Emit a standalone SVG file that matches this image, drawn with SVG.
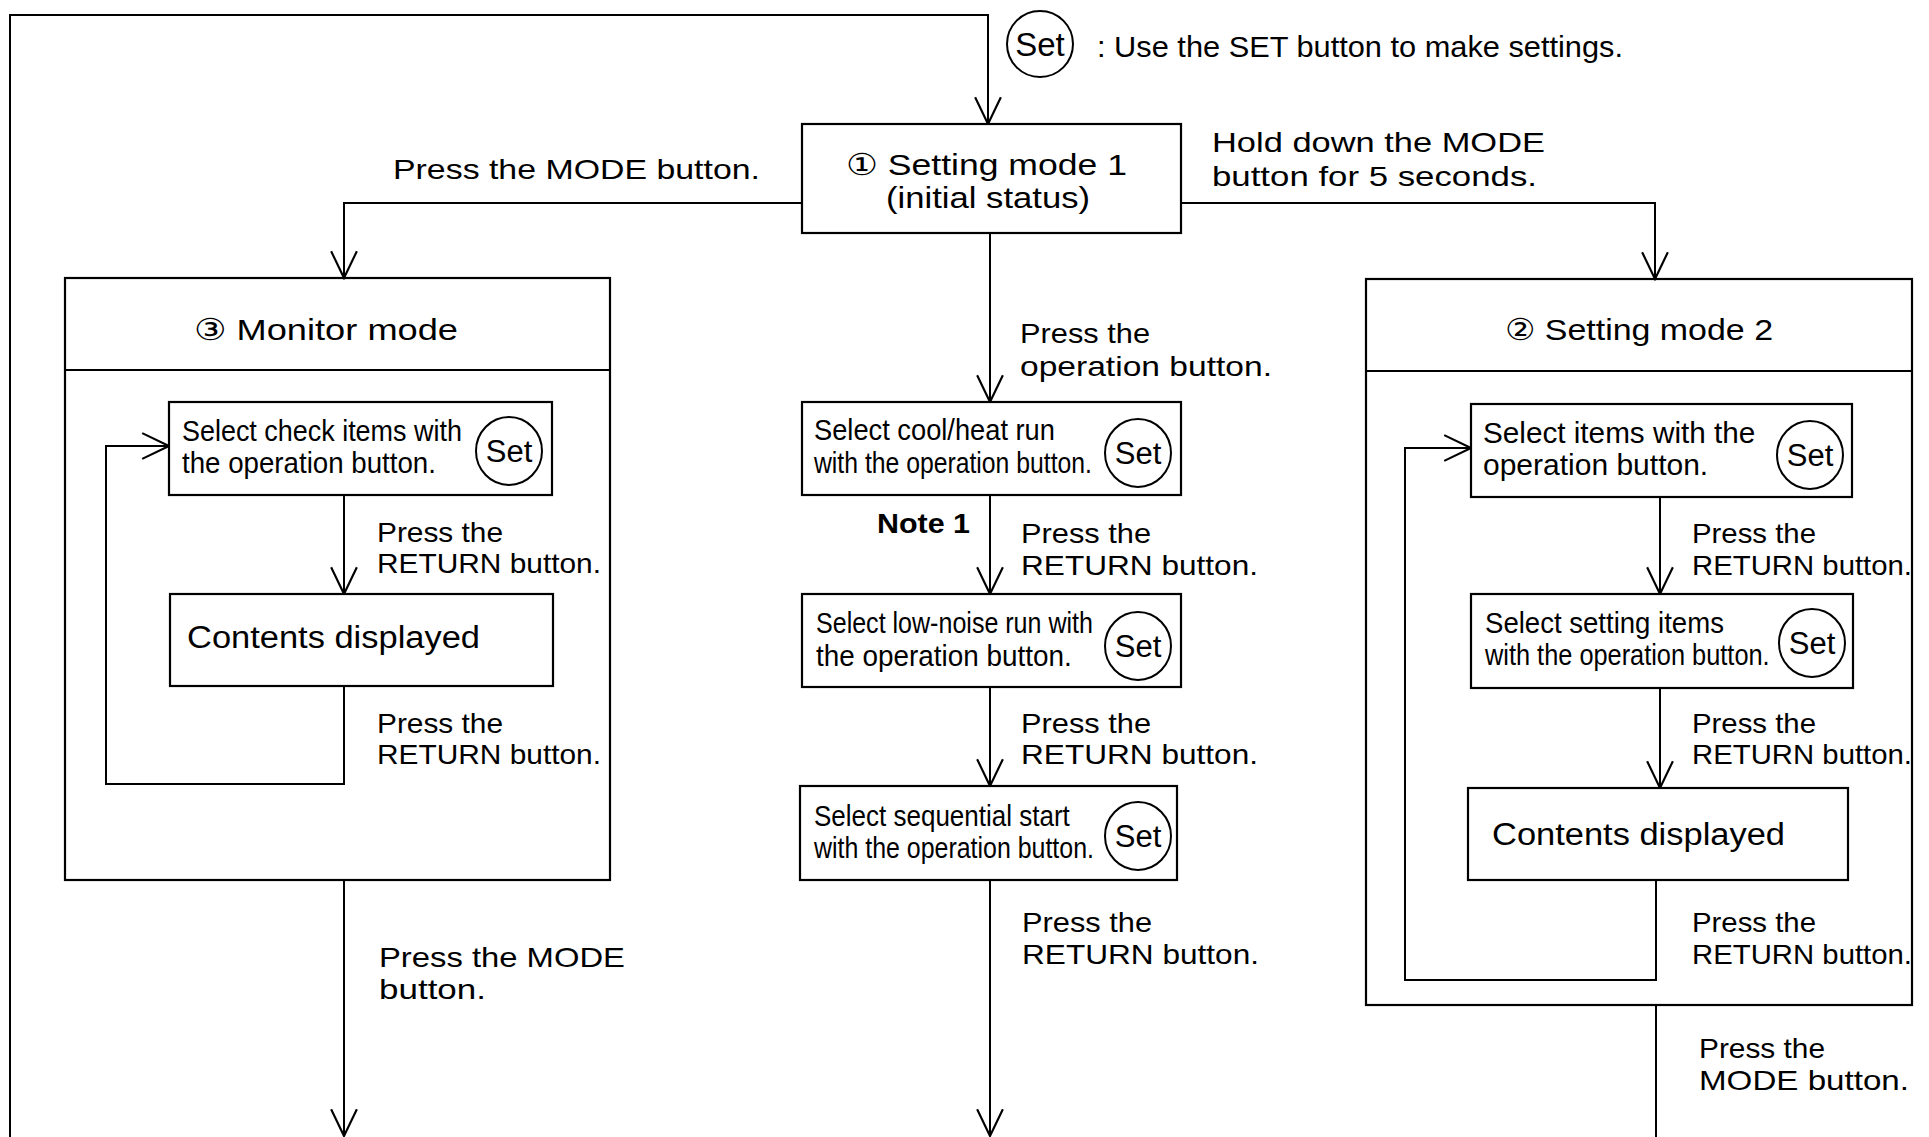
<svg xmlns="http://www.w3.org/2000/svg" width="1929" height="1137" viewBox="0 0 1929 1137">
<defs>
<marker id="arr" markerUnits="userSpaceOnUse" markerWidth="30" markerHeight="30" viewBox="-26 -14 28 28" refX="0" refY="0" orient="auto">
<path d="M-25,-12 L0,0 L-25,12" fill="none" stroke="#000" stroke-width="2"/>
</marker>
</defs>
<style>
text{font-family:"Liberation Sans","DejaVu Sans",Arial,sans-serif;fill:#000;font-size:28px}
.nar{font-size:30px}
.box{fill:#fff;stroke:#000;stroke-width:2.2}
.frame{fill:none;stroke:#000;stroke-width:2.2}
.set{fill:#fff;stroke:#000;stroke-width:2}
.st{font-size:31px;text-anchor:middle}
.ttl{font-size:30px}
.big{font-size:31px}
.bold{font-weight:bold}
.con{fill:none;stroke:#000;stroke-width:2}
.ca{fill:none;stroke:#000;stroke-width:2;marker-end:url(#arr)}
</style>
<rect width="1929" height="1137" fill="#fff"/>

<g id="connectors">
<path class="ca" d="M10,1137 L10,15 L988,15 L988,124"/>
<path class="ca" d="M802,203 L344,203 L344,278"/>
<path class="ca" d="M1181,203 L1655,203 L1655,279"/>
<path class="ca" d="M990,233 L990,402"/>
<path class="ca" d="M344,495 L344,594"/>
<path class="ca" d="M344,686 L344,784 L106,784 L106,446 L169,446"/>
<path class="ca" d="M344,880 L344,1136"/>
<path class="ca" d="M990,495 L990,594"/>
<path class="ca" d="M990,687 L990,786"/>
<path class="ca" d="M990,880 L990,1136"/>
<path class="ca" d="M1660,497 L1660,594"/>
<path class="ca" d="M1660,688 L1660,788"/>
<path class="ca" d="M1656,880 L1656,980 L1405,980 L1405,448 L1471,448"/>
<path class="con" d="M1656,1005 L1656,1137"/>
</g>

<g id="labels">
<text x="393" y="179" textLength="367" lengthAdjust="spacingAndGlyphs">Press the MODE button.</text>
<text x="1212" y="152" textLength="333" lengthAdjust="spacingAndGlyphs">Hold down the MODE</text>
<text x="1212" y="186" textLength="325" lengthAdjust="spacingAndGlyphs">button for 5 seconds.</text>
<text x="1020" y="343" textLength="130" lengthAdjust="spacingAndGlyphs">Press the</text>
<text x="1020" y="376" textLength="252" lengthAdjust="spacingAndGlyphs">operation button.</text>
<text x="377" y="542" textLength="126" lengthAdjust="spacingAndGlyphs">Press the</text>
<text x="377" y="573" textLength="224" lengthAdjust="spacingAndGlyphs">RETURN button.</text>
<text x="377" y="733" textLength="126" lengthAdjust="spacingAndGlyphs">Press the</text>
<text x="377" y="764" textLength="224" lengthAdjust="spacingAndGlyphs">RETURN button.</text>
<text x="379" y="967" textLength="246" lengthAdjust="spacingAndGlyphs">Press the MODE</text>
<text x="379" y="999" textLength="107" lengthAdjust="spacingAndGlyphs">button.</text>
<text class="bold" x="877" y="533" textLength="93" lengthAdjust="spacingAndGlyphs">Note 1</text>
<text x="1021" y="543" textLength="130" lengthAdjust="spacingAndGlyphs">Press the</text>
<text x="1021" y="575" textLength="237" lengthAdjust="spacingAndGlyphs">RETURN button.</text>
<text x="1021" y="733" textLength="130" lengthAdjust="spacingAndGlyphs">Press the</text>
<text x="1021" y="764" textLength="237" lengthAdjust="spacingAndGlyphs">RETURN button.</text>
<text x="1022" y="932" textLength="130" lengthAdjust="spacingAndGlyphs">Press the</text>
<text x="1022" y="964" textLength="237" lengthAdjust="spacingAndGlyphs">RETURN button.</text>
<text x="1692" y="543" textLength="124" lengthAdjust="spacingAndGlyphs">Press the</text>
<text x="1692" y="575" textLength="220" lengthAdjust="spacingAndGlyphs">RETURN button.</text>
<text x="1692" y="733" textLength="124" lengthAdjust="spacingAndGlyphs">Press the</text>
<text x="1692" y="764" textLength="220" lengthAdjust="spacingAndGlyphs">RETURN button.</text>
<text x="1692" y="932" textLength="124" lengthAdjust="spacingAndGlyphs">Press the</text>
<text x="1692" y="964" textLength="220" lengthAdjust="spacingAndGlyphs">RETURN button.</text>
<text x="1699" y="1058" textLength="126" lengthAdjust="spacingAndGlyphs">Press the</text>
<text x="1699" y="1090" textLength="210" lengthAdjust="spacingAndGlyphs">MODE button.</text>
</g>

<g id="legend">
<ellipse class="set" cx="1040" cy="44" rx="33" ry="33"/>
<text class="st" x="1040" y="56" style="font-size:33px">Set</text>
<text x="1097" y="57" style="font-size:29px" textLength="526" lengthAdjust="spacingAndGlyphs">: Use the SET button to make settings.</text>
</g>

<g id="setting-mode-1">
<rect class="box" x="802" y="124" width="379" height="109"/>
<text class="ttl" x="846" y="175" textLength="281" lengthAdjust="spacingAndGlyphs">① Setting mode 1</text>
<text class="ttl" x="886" y="208" textLength="204" lengthAdjust="spacingAndGlyphs">(initial status)</text>
</g>

<g id="monitor-mode">
<rect class="frame" x="65" y="278" width="545" height="602"/>
<line class="frame" x1="65" y1="370" x2="610" y2="370"/>
<text class="ttl" x="194" y="340" textLength="264" lengthAdjust="spacingAndGlyphs">③ Monitor mode</text>
</g>

<g id="select-check-items">
<rect class="box" x="169" y="402" width="383" height="93"/>
<text class="nar" transform="translate(182,441) scale(0.898,1)">Select check items with</text>
<text class="nar" transform="translate(182,473) scale(0.923,1)">the operation button.</text>
<ellipse class="set" cx="509" cy="451" rx="33" ry="34"/>
<text class="st" x="509" y="462">Set</text>
</g>

<g id="contents-displayed-1">
<rect class="box" x="170" y="594" width="383" height="92"/>
<text class="big" x="187" y="648" textLength="293" lengthAdjust="spacingAndGlyphs">Contents displayed</text>
</g>

<g id="select-cool-heat">
<rect class="box" x="802" y="402" width="379" height="93"/>
<text class="nar" transform="translate(814,440) scale(0.909,1)">Select cool/heat run</text>
<text class="nar" transform="translate(814,473) scale(0.825,1)">with the operation button.</text>
<ellipse class="set" cx="1138" cy="453" rx="33" ry="34"/>
<text class="st" x="1138" y="464">Set</text>
</g>

<g id="select-low-noise">
<rect class="box" x="802" y="594" width="379" height="93"/>
<text class="nar" transform="translate(816,633) scale(0.835,1)">Select low-noise run with</text>
<text class="nar" transform="translate(816,666) scale(0.93,1)">the operation button.</text>
<ellipse class="set" cx="1138" cy="646" rx="33" ry="34"/>
<text class="st" x="1138" y="657">Set</text>
</g>

<g id="select-sequential">
<rect class="box" x="800" y="786" width="377" height="94"/>
<text class="nar" transform="translate(814,826) scale(0.867,1)">Select sequential start</text>
<text class="nar" transform="translate(814,858) scale(0.831,1)">with the operation button.</text>
<ellipse class="set" cx="1138" cy="836" rx="33" ry="34"/>
<text class="st" x="1138" y="847">Set</text>
</g>

<g id="setting-mode-2">
<rect class="frame" x="1366" y="279" width="546" height="726"/>
<line class="frame" x1="1366" y1="371" x2="1912" y2="371"/>
<text class="ttl" x="1505" y="340" textLength="268" lengthAdjust="spacingAndGlyphs">② Setting mode 2</text>
</g>

<g id="select-items">
<rect class="box" x="1471" y="404" width="381" height="93"/>
<text class="nar" transform="translate(1483,443) scale(0.99,1)">Select items with the</text>
<text class="nar" transform="translate(1483,475) scale(1,1)">operation button.</text>
<ellipse class="set" cx="1810" cy="455" rx="33" ry="34"/>
<text class="st" x="1810" y="466">Set</text>
</g>

<g id="select-setting-items">
<rect class="box" x="1471" y="594" width="382" height="94"/>
<text class="nar" transform="translate(1485,633) scale(0.919,1)">Select setting items</text>
<text class="nar" transform="translate(1485,665) scale(0.845,1)">with the operation button.</text>
<ellipse class="set" cx="1812" cy="643" rx="33" ry="34"/>
<text class="st" x="1812" y="654">Set</text>
</g>

<g id="contents-displayed-2">
<rect class="box" x="1468" y="788" width="380" height="92"/>
<text class="big" x="1492" y="845" textLength="293" lengthAdjust="spacingAndGlyphs">Contents displayed</text>
</g>
</svg>
